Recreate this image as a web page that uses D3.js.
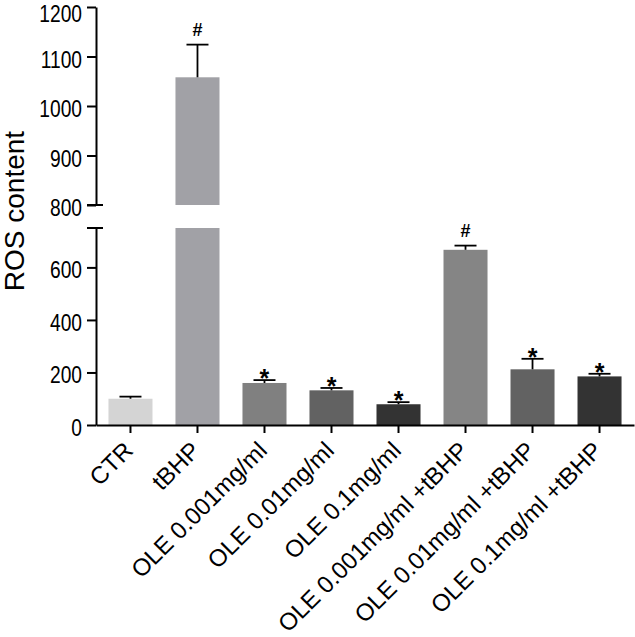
<!DOCTYPE html>
<html>
<head>
<meta charset="utf-8">
<script src="https://cdn.jsdelivr.net/npm/d3@7"></script>
<style>
  body { margin: 0; background: #fff; }
  text { font-family: "Liberation Sans", Arial, sans-serif; fill: #000; }
</style>
</head>
<body>
<div id="chart"></div>
<script>
// data
var categories = ["CTR", "tBHP", "OLE 0.001mg/ml", "OLE 0.01mg/ml", "OLE 0.1mg/ml",
                  "OLE 0.001mg/ml +tBHP", "OLE 0.01mg/ml +tBHP", "OLE 0.1mg/ml +tBHP"];
var means = [100, 1058, 160, 132, 79, 667, 212, 185];
var errors = [8, 66, 11, 9, 8, 16, 40, 10];
var marks = ["", "#", "*", "*", "*", "#", "*", "*"];
var barColors = ["#d4d4d4", "#a1a1a6", "#808080", "#626262", "#333333", "#858585", "#626262", "#333333"];
var ticksTop = [800, 900, 1000, 1100, 1200];
var ticksBottom = [0, 200, 400, 600];

var data = categories.map(function(c, i) {
  return {name: c, value: means[i], err: errors[i], mark: marks[i], color: barColors[i]};
});

var width = 635, height = 637;
var axisX = 96;

var svg = d3.select("#chart")
  .append("svg")
    .attr("width", width)
    .attr("height", height);

// two y segments (broken axis)
var yTop = d3.scaleLinear().domain([800, 1200]).range([205, 7]);
var yBot = d3.scaleLinear().domain([0, 750]).range([425, 228]);
function yOf(v) { return v > 775 ? yTop(v) : yBot(v); }

var x = d3.scaleBand()
  .domain(categories)
  .range([axisX, 634])
  .paddingInner(0.343)
  .paddingOuter(0.186);

// bars
data.forEach(function(d) {
  var x0 = x(d.name);
  if (d.value > 750) {
    svg.append("rect")
      .attr("x", x0).attr("width", x.bandwidth())
      .attr("y", yBot(750)).attr("height", yBot(0) - yBot(750))
      .attr("fill", d.color);
    svg.append("rect")
      .attr("x", x0).attr("width", x.bandwidth())
      .attr("y", yTop(d.value)).attr("height", yTop(800) - yTop(d.value))
      .attr("fill", d.color);
  } else {
    svg.append("rect")
      .attr("x", x0).attr("width", x.bandwidth())
      .attr("y", yBot(d.value)).attr("height", yBot(0) - yBot(d.value))
      .attr("fill", d.color);
  }
});

// error bars (upper only)
var errG = svg.append("g").attr("stroke", "#000").attr("stroke-width", 1.8);
data.forEach(function(d) {
  var cx = x(d.name) + x.bandwidth() / 2;
  var top = yOf(d.value + d.err);
  errG.append("line")
    .attr("x1", cx).attr("x2", cx)
    .attr("y1", yOf(d.value)).attr("y2", top);
  errG.append("line")
    .attr("x1", cx - 11).attr("x2", cx + 11)
    .attr("y1", top).attr("y2", top);

  if (d.mark == "#") {
    svg.append("text")
      .attr("x", cx).attr("y", top - 9)
      .attr("text-anchor", "middle")
      .attr("font-weight", "bold")
      .attr("font-size", "18px")
      .text(d.mark);
  } else if (d.mark == "*") {
    svg.append("text")
      .attr("x", cx).attr("y", top + 7)
      .attr("text-anchor", "middle")
      .attr("font-weight", "bold")
      .attr("font-size", "25px")
      .text(d.mark);
  }
});

// y axis segments
function styleAxis(g) {
  g.selectAll("path, line").attr("stroke", "#000").attr("stroke-width", 2);
  g.selectAll("text").remove();
}
var gTop = svg.append("g")
  .attr("transform", "translate(" + axisX + ",0)")
  .call(d3.axisLeft(yTop).tickValues(ticksTop).tickSize(9).tickSizeOuter(0))
  .call(styleAxis);
var gBot = svg.append("g")
  .attr("transform", "translate(" + axisX + ",0)")
  .call(d3.axisLeft(yBot).tickValues(ticksBottom).tickSize(9).tickSizeOuter(0))
  .call(styleAxis);

// break caps
[yTop(800), yBot(750)].forEach(function(yy) {
  svg.append("line")
    .attr("x1", axisX - 9).attr("x2", axisX + 7)
    .attr("y1", yy).attr("y2", yy)
    .attr("stroke", "#000").attr("stroke-width", 2);
});

// y tick labels (condensed)
function yLabel(v, yy) {
  svg.append("text")
    .attr("transform", "translate(82," + Math.max(yy + 11, 22) + ") scale(0.8,1)")
    .attr("text-anchor", "end")
    .attr("font-size", "24px")
    .text(v);
}
ticksTop.forEach(function(v) { yLabel(v, yTop(v)); });
ticksBottom.forEach(function(v) { yLabel(v, yBot(v)); });

// x axis
var gX = svg.append("g")
  .attr("transform", "translate(0," + yBot(0) + ")")
  .call(d3.axisBottom(x).tickSize(8).tickSizeOuter(0));
gX.selectAll("path, line").attr("stroke", "#000").attr("stroke-width", 2);
gX.selectAll("text").remove();

categories.forEach(function(c) {
  var cx = x(c) + x.bandwidth() / 2;
  svg.append("text")
    .attr("transform", "translate(" + (cx + 4) + ",452) rotate(-45)")
    .attr("text-anchor", "end")
    .attr("font-size", "24px")
    .text(c);
});

// y title
svg.append("text")
  .attr("transform", "translate(24,211) rotate(-90)")
  .attr("text-anchor", "middle")
  .attr("font-size", "28px")
  .text("ROS content");
</script>
</body>
</html>
